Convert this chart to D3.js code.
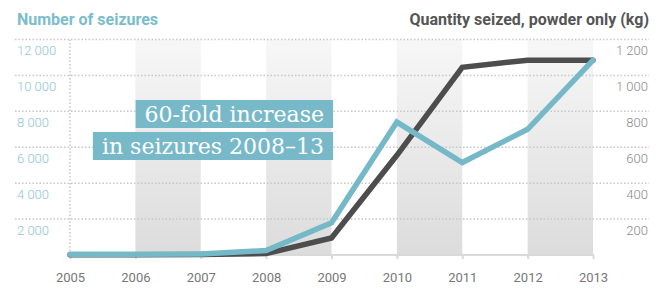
<!DOCTYPE html>
<html>
<head>
<meta charset="utf-8">
<script src="https://cdn.jsdelivr.net/npm/d3@7"></script>
<style>
  body { margin: 0; background: #fff; }
  svg { display: block; font-family: "Roboto", "Open Sans", sans-serif; }
</style>
</head>
<body>
<div id="chart-container"></div>
<script>
// Chart data
const years = [2005, 2006, 2007, 2008, 2009, 2010, 2011, 2012, 2013];
const seizures = [40, 40, 50, 250, 1800, 7400, 5150, 7000, 10850];
const quantityKg = [2, 2, 3, 8, 95, 555, 1045, 1085, 1085];
const leftTicks = [2000, 4000, 6000, 8000, 10000, 12000];
const rightTicks = [200, 400, 600, 800, 1000, 1200];
const noteLines = ["60-fold increase", "in seizures 2008\u201313"];

const width = 667;
const height = 289;

const svg = d3.select("#chart-container")
  .append("svg")
  .attr("width", width)
  .attr("height", height);

// scales
const xScale = d3.scalePoint()
  .domain(years)
  .range([70, 593]);

const yLeft = d3.scaleLinear()
  .domain([0, 12000])
  .range([255, 39.5]);

const yRight = d3.scaleLinear()
  .domain([0, 1200])
  .range([255, 39.5]);

const step = xScale.step();

// gradient for the shaded bands
const grad = svg.append("defs").append("linearGradient")
  .attr("id", "band")
  .attr("x1", 0).attr("y1", 0).attr("x2", 0).attr("y2", 1);
grad.append("stop").attr("offset", "0%").attr("stop-color", "#f7f7f7");
grad.append("stop").attr("offset", "100%").attr("stop-color", "#dcdcdc");

// shaded bands every other year
svg.selectAll(".band")
  .data(years.filter((d, i) => i % 2 === 1))
  .enter()
  .append("rect")
  .attr("class", "band")
  .attr("x", d => xScale(d))
  .attr("y", yLeft(12000))
  .attr("width", step)
  .attr("height", yLeft(0) - yLeft(12000))
  .attr("fill", "url(#band)");

// dotted gridlines
svg.selectAll(".grid")
  .data(leftTicks)
  .enter()
  .append("line")
  .attr("x1", 15)
  .attr("x2", 649)
  .attr("y1", d => yLeft(d))
  .attr("y2", d => yLeft(d))
  .attr("stroke", "#c8c8c8")
  .attr("stroke-width", 1.5)
  .attr("stroke-dasharray", "1.5,2");

// vertical dotted line at the first year
svg.append("line")
  .attr("x1", xScale(years[0]))
  .attr("x2", xScale(years[0]))
  .attr("y1", yLeft(12000))
  .attr("y2", yLeft(0))
  .attr("stroke", "#c8c8c8")
  .attr("stroke-width", 1.5)
  .attr("stroke-dasharray", "1.5,2");

// x axis
const xAxis = d3.axisBottom(xScale).tickSize(4).tickPadding(14);
const gx = svg.append("g")
  .attr("transform", `translate(0, ${yLeft(0)})`)
  .call(xAxis);
gx.select(".domain").attr("stroke", "#d9d9d9").attr("stroke-width", 2)
  .attr("d", `M${xScale(years[0])},1V0H${xScale(years[years.length - 1])}V1`);
gx.selectAll(".tick line").attr("stroke", "#d9d9d9").attr("stroke-width", 2);
gx.selectAll(".tick text")
  .attr("fill", "#777")
  .style("font-size", "13px")
  .style("font-family", "Roboto, sans-serif");

// left axis labels
const yAxisL = d3.axisRight(yLeft)
  .tickValues(leftTicks)
  .tickSize(0)
  .tickFormat(d => d3.format(",")(d).replace(",", " "));
const gl = svg.append("g")
  .attr("transform", "translate(17, 11)")
  .call(yAxisL);
gl.select(".domain").remove();
gl.selectAll(".tick text")
  .attr("x", 0)
  .attr("fill", "#8ec6d5")
  .style("font-size", "13px")
  .style("font-weight", 300)
  .style("font-family", "Roboto, sans-serif");

// right axis labels
const yAxisR = d3.axisLeft(yRight)
  .tickValues(rightTicks)
  .tickSize(0)
  .tickFormat(d => d3.format(",")(d).replace(",", " "));
const gr = svg.append("g")
  .attr("transform", "translate(648, 11)")
  .call(yAxisR);
gr.select(".domain").remove();
gr.selectAll(".tick text")
  .attr("x", 0)
  .attr("fill", "#8a8a8a")
  .style("font-size", "13px")
  .style("font-weight", 300)
  .style("font-family", "Roboto, sans-serif");

// lines
const lineL = d3.line().x((d, i) => xScale(years[i])).y(d => yLeft(d));
const lineR = d3.line().x((d, i) => xScale(years[i])).y(d => yRight(d));

svg.append("path")
  .datum(quantityKg)
  .attr("d", lineR)
  .attr("fill", "none")
  .attr("stroke", "#4d4d4d")
  .attr("stroke-width", 5.5)
  .attr("stroke-linejoin", "miter")
  .attr("stroke-linecap", "round");

svg.append("path")
  .datum(seizures)
  .attr("d", lineL)
  .attr("fill", "none")
  .attr("stroke", "#75b9c9")
  .attr("stroke-width", 5.5)
  .attr("stroke-linejoin", "miter")
  .attr("stroke-linecap", "round");

// titles
svg.append("text")
  .attr("x", 17)
  .attr("y", 25)
  .attr("fill", "#7bbccc")
  .style("font-size", "16px")
  .style("font-weight", "bold")
  .text("Number of seizures");

svg.append("text")
  .attr("x", 649)
  .attr("y", 25)
  .attr("text-anchor", "end")
  .attr("fill", "#555")
  .style("font-size", "16px")
  .style("font-weight", "bold")
  .text("Quantity seized, powder only (kg)");

// annotation boxes
const noteRight = 333;
const noteTops = [100, 132];
const note = svg.append("g");
noteLines.forEach((t, i) => {
  const txt = note.append("text")
    .attr("x", noteRight - 9)
    .attr("y", noteTops[i] + 22)
    .attr("text-anchor", "end")
    .attr("fill", "#fff")
    .style("font-family", "'DejaVu Serif', serif")
    .style("font-size", "22px")
    .style("font-weight", 300)
    .text(t);
  const w = txt.node().getComputedTextLength();
  note.insert("rect", "text")
    .attr("x", noteRight - w - 18)
    .attr("y", noteTops[i])
    .attr("width", w + 18)
    .attr("height", 28)
    .attr("fill", "#78b9c9");
});
</script>
</body>
</html>
